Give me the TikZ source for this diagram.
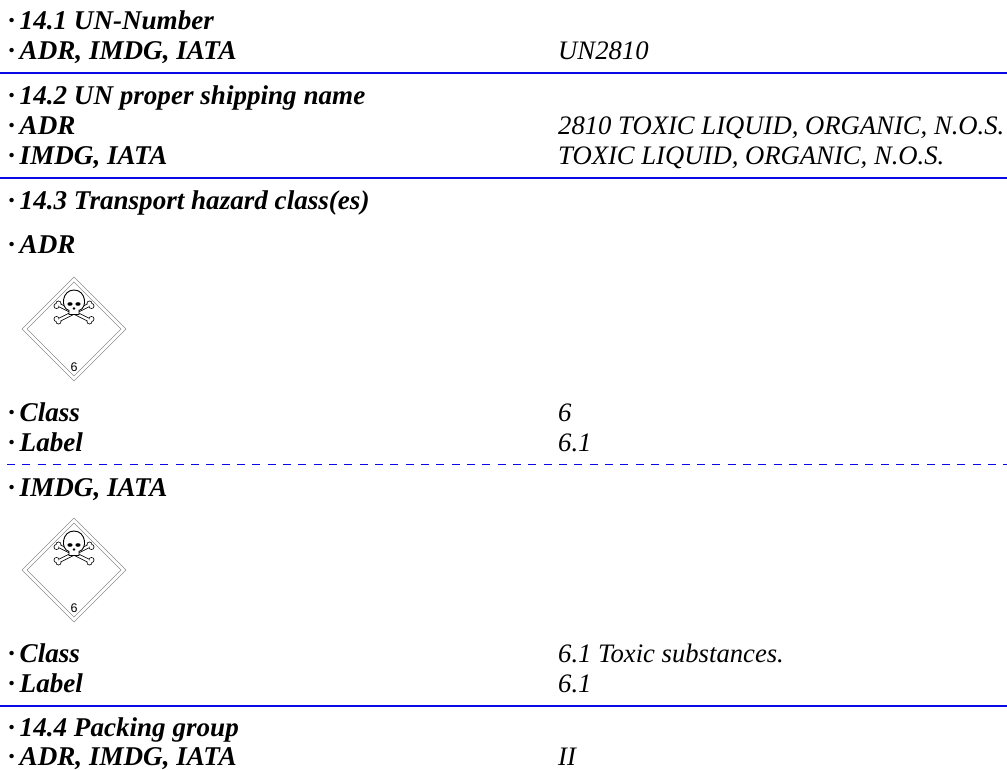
\documentclass[tikz,border=0pt]{standalone}
\usepackage{fontspec}
\setmainfont{Liberation Serif}
\setsansfont{Liberation Sans}
\usepackage{tikz}
\definecolor{sdsblue}{RGB}{10,10,230}
\tikzstyle{sds_key}=[anchor=base west, inner sep=0pt, font=\fontsize{27.1}{30}\selectfont\bfseries\itshape]
\tikzstyle{sds_val}=[anchor=base west, inner sep=0pt, font=\fontsize{26.67}{30}\selectfont\itshape]
\tikzstyle{sds_rule}=[draw=sdsblue, line width=1.6pt]
\tikzstyle{sds_dash}=[draw=sdsblue, line width=1pt, dash pattern=on 8pt off 7.33pt]
\tikzstyle{sds_edge}=[draw=black!45, line width=0.7pt]
\newcommand{\bul}{·\kern-2pt\ }
\newcommand{\placard}[2]{
\coordinate (#2c) at (#1);
\coordinate (#2n) at ([shift={(0,-52)}]#2c);
\coordinate (#2e) at ([shift={(52,0)}]#2c);
\coordinate (#2s) at ([shift={(0,52)}]#2c);
\coordinate (#2w) at ([shift={(-52,0)}]#2c);
\draw[sds_edge] (#2n) -- (#2e) -- (#2s) -- (#2w) -- cycle;
\coordinate (#2in) at ([shift={(0,-47)}]#2c);
\coordinate (#2ie) at ([shift={(47,0)}]#2c);
\coordinate (#2is) at ([shift={(0,47)}]#2c);
\coordinate (#2iw) at ([shift={(-47,0)}]#2c);
\draw[sds_edge] (#2in) -- (#2ie) -- (#2is) -- (#2iw) -- cycle;
% bones
\foreach \sx/\col/\lw/\rad in {-1/black/4/2.9, 1/black/4/2.9, -1/white/2.4/2.1, 1/white/2.4/2.1}{
\draw[\col, line width=\lw pt] ([shift={(\sx*15,-24)}]#2c) -- ([shift={(-\sx*15,-9)}]#2c);
\fill[\col] ([shift={(\sx*15.5,-25.5)}]#2c) circle (\rad pt);
\fill[\col] ([shift={(\sx*17.5,-23)}]#2c) circle (\rad pt);
\fill[\col] ([shift={(-\sx*15.5,-7.5)}]#2c) circle (\rad pt);
\fill[\col] ([shift={(-\sx*17.5,-10)}]#2c) circle (\rad pt);
}
% skull
\draw[black, line width=0.9pt, fill=white] ([shift={(-5,-18.5)}]#2c) .. controls ([shift={(-14,-21)}]#2c) and ([shift={(-12,-39)}]#2c) .. ([shift={(0,-39)}]#2c) .. controls ([shift={(12,-39)}]#2c) and ([shift={(14,-21)}]#2c) .. ([shift={(5,-18.5)}]#2c) -- ([shift={(5,-14.5)}]#2c) -- ([shift={(-5,-14.5)}]#2c) -- cycle;
\fill[black] ([shift={(-4,-25)}]#2c) ellipse (2.6pt and 1.8pt);
\fill[black] ([shift={(4,-25)}]#2c) ellipse (2.6pt and 1.8pt);
\fill[black] ([shift={(0,-20.5)}]#2c) circle (1.3pt);
\node[inner sep=0pt, font=\fontsize{12.5}{12.5}\selectfont\sffamily] (#2num) at ([shift={(0,38)}]#2c) {6};
}
\begin{document}
\begin{tikzpicture}[x=1pt,y=-1pt]
\useasboundingbox (0,0) rectangle (1007,770);
\node[sds_key] (k1) at (8,30) {\bul 14.1 UN-Number};
\node[sds_key] (k2) at (8,60) {\bul ADR, IMDG, IATA};
\node[sds_val] (v2) at (558,60) {UN2810};
\coordinate (r1a) at (0,73);
\coordinate (r1b) at (1007,73);
\draw[sds_rule] (r1a) -- (r1b);
\node[sds_key] (k3) at (8,105) {\bul 14.2 UN proper shipping name};
\node[sds_key] (k4) at (8,135) {\bul ADR};
\node[sds_val] (v4) at (558,135) {2810 TOXIC LIQUID, ORGANIC, N.O.S.};
\node[sds_key] (k5) at (8,165) {\bul IMDG, IATA};
\node[sds_val] (v5) at (558,165) {TOXIC LIQUID, ORGANIC, N.O.S.};
\coordinate (r2a) at (0,178);
\coordinate (r2b) at (1007,178);
\draw[sds_rule] (r2a) -- (r2b);
\node[sds_key] (k6) at (8,210) {\bul 14.3 Transport hazard class(es)};
\node[sds_key] (k7) at (8,254) {\bul ADR};
\placard{74,329}{pa}
\node[sds_key] (k8) at (8,421) {\bul Class};
\node[sds_val] (v8) at (558,421) {6};
\node[sds_key] (k9) at (8,451) {\bul Label};
\node[sds_val] (v9) at (558,451) {6.1};
\coordinate (r3a) at (7,464);
\coordinate (r3b) at (1007,464);
\draw[sds_dash] (r3a) -- (r3b);
\node[sds_key] (k10) at (8,496) {\bul IMDG, IATA};
\placard{74,570}{pb}
\node[sds_key] (k11) at (8,662) {\bul Class};
\node[sds_val] (v11) at (558,662) {6.1 Toxic substances.};
\node[sds_key] (k12) at (8,692) {\bul Label};
\node[sds_val] (v12) at (558,692) {6.1};
\coordinate (r4a) at (0,706);
\coordinate (r4b) at (1007,706);
\draw[sds_rule] (r4a) -- (r4b);
\node[sds_key] (k13) at (8,736) {\bul 14.4 Packing group};
\node[sds_key] (k14) at (8,765) {\bul ADR, IMDG, IATA};
\node[sds_val] (v14) at (558,765) {II};
\end{tikzpicture}
\end{document}
